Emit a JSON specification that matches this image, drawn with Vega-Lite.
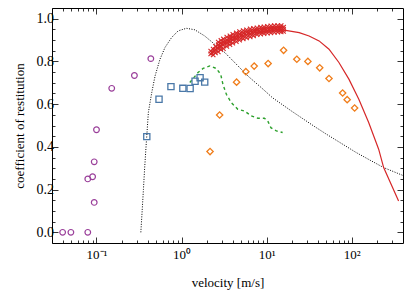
{
  "$schema": "https://vega.github.io/schema/vega-lite/v6.json",
  "width": 351,
  "height": 235,
  "autosize": {"type": "none"},
  "padding": {"left": 52, "top": 8, "right": 12, "bottom": 51},
  "config": {
    "view": {"stroke": "black", "strokeWidth": 1},
    "font": "Liberation Serif",
    "axis": {"domain": false, "grid": false, "tickColor": "black", "labelColor": "black", "titleColor": "black", "labelFontSize": 13, "titleFontSize": 13, "titleFontWeight": "normal", "labelFont": "Liberation Serif", "titleFont": "Liberation Serif", "tickWidth": 0.8}
  },
  "datasets": {
    "d": [
      {"s": "p", "v": 0.040, "e": 0.0}, {"s": "p", "v": 0.050, "e": 0.0}, {"s": "p", "v": 0.079, "e": 0.0}, {"s": "p", "v": 0.079, "e": 0.25}, {"s": "p", "v": 0.090, "e": 0.26}, {"s": "p", "v": 0.094, "e": 0.33}, {"s": "p", "v": 0.094, "e": 0.14}, {"s": "p", "v": 0.100, "e": 0.48}, {"s": "p", "v": 0.151, "e": 0.674}, {"s": "p", "v": 0.279, "e": 0.734}, {"s": "p", "v": 0.435, "e": 0.813},
      {"s": "b", "v": 0.39, "e": 0.448}, {"s": "b", "v": 0.543, "e": 0.623}, {"s": "b", "v": 0.75, "e": 0.682}, {"s": "b", "v": 1.035, "e": 0.674}, {"s": "b", "v": 1.26, "e": 0.673}, {"s": "b", "v": 1.44, "e": 0.707}, {"s": "b", "v": 1.65, "e": 0.724}, {"s": "b", "v": 1.87, "e": 0.703},
      {"s": "o", "v": 2.16, "e": 0.378}, {"s": "o", "v": 2.80, "e": 0.549}, {"s": "o", "v": 4.43, "e": 0.703}, {"s": "o", "v": 5.69, "e": 0.752}, {"s": "o", "v": 7.13, "e": 0.778}, {"s": "o", "v": 10.4, "e": 0.790}, {"s": "o", "v": 15.8, "e": 0.852}, {"s": "o", "v": 22.6, "e": 0.810}, {"s": "o", "v": 30.5, "e": 0.800}, {"s": "o", "v": 42.0, "e": 0.770}, {"s": "o", "v": 54.0, "e": 0.720}, {"s": "o", "v": 78.1, "e": 0.652}, {"s": "o", "v": 88.3, "e": 0.621}, {"s": "o", "v": 108, "e": 0.582},
      {"s": "g", "v": 1.25, "e": 0.701}, {"s": "g", "v": 1.56, "e": 0.748}, {"s": "g", "v": 1.79, "e": 0.767}, {"s": "g", "v": 2.14, "e": 0.779}, {"s": "g", "v": 2.56, "e": 0.767}, {"s": "g", "v": 2.88, "e": 0.740}, {"s": "g", "v": 3.06, "e": 0.693}, {"s": "g", "v": 3.36, "e": 0.646}, {"s": "g", "v": 3.84, "e": 0.607}, {"s": "g", "v": 4.58, "e": 0.576}, {"s": "g", "v": 5.49, "e": 0.568}, {"s": "g", "v": 6.58, "e": 0.545}, {"s": "g", "v": 7.86, "e": 0.534}, {"s": "g", "v": 9.40, "e": 0.534}, {"s": "g", "v": 10.3, "e": 0.521}, {"s": "g", "v": 11.2, "e": 0.490}, {"s": "g", "v": 13.0, "e": 0.475}, {"s": "g", "v": 15.4, "e": 0.467},
      {"s": "k", "v": 0.332, "e": 0.0}, {"s": "k", "v": 0.344, "e": 0.1}, {"s": "k", "v": 0.356, "e": 0.2}, {"s": "k", "v": 0.368, "e": 0.3}, {"s": "k", "v": 0.383, "e": 0.407}, {"s": "k", "v": 0.390, "e": 0.451}, {"s": "k", "v": 0.407, "e": 0.561}, {"s": "k", "v": 0.446, "e": 0.654}, {"s": "k", "v": 0.488, "e": 0.732}, {"s": "k", "v": 0.557, "e": 0.810}, {"s": "k", "v": 0.638, "e": 0.865}, {"s": "k", "v": 0.764, "e": 0.912}, {"s": "k", "v": 0.912, "e": 0.943}, {"s": "k", "v": 1.14, "e": 0.955}, {"s": "k", "v": 1.43, "e": 0.948}, {"s": "k", "v": 1.87, "e": 0.919}, {"s": "k", "v": 2.45, "e": 0.880}, {"s": "k", "v": 3.21, "e": 0.842}, {"s": "k", "v": 4.20, "e": 0.795}, {"s": "k", "v": 6.0, "e": 0.732}, {"s": "k", "v": 8.6, "e": 0.678}, {"s": "k", "v": 11.7, "e": 0.630}, {"s": "k", "v": 20, "e": 0.565}, {"s": "k", "v": 35, "e": 0.500}, {"s": "k", "v": 50, "e": 0.460}, {"s": "k", "v": 80, "e": 0.410}, {"s": "k", "v": 111, "e": 0.375}, {"s": "k", "v": 160, "e": 0.340}, {"s": "k", "v": 237, "e": 0.303}, {"s": "k", "v": 400, "e": 0.266},
      {"s": "r", "v": 15.4, "e": 0.948}, {"s": "r", "v": 24.1, "e": 0.935}, {"s": "r", "v": 31.5, "e": 0.919}, {"s": "r", "v": 41.3, "e": 0.896}, {"s": "r", "v": 54.0, "e": 0.857}, {"s": "r", "v": 70.6, "e": 0.795}, {"s": "r", "v": 92.5, "e": 0.717}, {"s": "r", "v": 121, "e": 0.623}, {"s": "r", "v": 158, "e": 0.514}, {"s": "r", "v": 207, "e": 0.389}, {"s": "r", "v": 237, "e": 0.303}, {"s": "r", "v": 355, "e": 0.147},
      {"s": "x", "v": 2.2, "e": 0.835}, {"s": "x", "v": 2.2, "e": 0.848}, {"s": "x", "v": 2.28, "e": 0.84},
      {"s": "x", "v": 2.35, "e": 0.83}, {"s": "x", "v": 2.35, "e": 0.845}, {"s": "x", "v": 2.35, "e": 0.858}, {"s": "x", "v": 2.42, "e": 0.85},
      {"s": "x", "v": 2.5, "e": 0.84}, {"s": "x", "v": 2.5, "e": 0.855}, {"s": "x", "v": 2.5, "e": 0.87}, {"s": "x", "v": 2.6, "e": 0.862},
      {"s": "x", "v": 2.7, "e": 0.845}, {"s": "x", "v": 2.7, "e": 0.862}, {"s": "x", "v": 2.7, "e": 0.878}, {"s": "x", "v": 2.7, "e": 0.89}, {"s": "x", "v": 2.8, "e": 0.87},
      {"s": "x", "v": 2.9, "e": 0.855}, {"s": "x", "v": 2.9, "e": 0.87}, {"s": "x", "v": 2.9, "e": 0.885}, {"s": "x", "v": 2.9, "e": 0.898}, {"s": "x", "v": 3.0, "e": 0.88},
      {"s": "x", "v": 3.1, "e": 0.86}, {"s": "x", "v": 3.1, "e": 0.877}, {"s": "x", "v": 3.1, "e": 0.892}, {"s": "x", "v": 3.1, "e": 0.905}, {"s": "x", "v": 3.25, "e": 0.888},
      {"s": "x", "v": 3.4, "e": 0.87}, {"s": "x", "v": 3.4, "e": 0.886}, {"s": "x", "v": 3.4, "e": 0.9}, {"s": "x", "v": 3.4, "e": 0.914}, {"s": "x", "v": 3.55, "e": 0.895},
      {"s": "x", "v": 3.7, "e": 0.878}, {"s": "x", "v": 3.7, "e": 0.893}, {"s": "x", "v": 3.7, "e": 0.907}, {"s": "x", "v": 3.7, "e": 0.92}, {"s": "x", "v": 3.85, "e": 0.905},
      {"s": "x", "v": 4.0, "e": 0.885}, {"s": "x", "v": 4.0, "e": 0.9}, {"s": "x", "v": 4.0, "e": 0.913}, {"s": "x", "v": 4.0, "e": 0.927}, {"s": "x", "v": 4.2, "e": 0.91},
      {"s": "x", "v": 4.4, "e": 0.893}, {"s": "x", "v": 4.4, "e": 0.907}, {"s": "x", "v": 4.4, "e": 0.92}, {"s": "x", "v": 4.4, "e": 0.933}, {"s": "x", "v": 4.6, "e": 0.917},
      {"s": "x", "v": 4.8, "e": 0.9}, {"s": "x", "v": 4.8, "e": 0.913}, {"s": "x", "v": 4.8, "e": 0.926}, {"s": "x", "v": 4.8, "e": 0.94}, {"s": "x", "v": 5.05, "e": 0.922},
      {"s": "x", "v": 5.3, "e": 0.906}, {"s": "x", "v": 5.3, "e": 0.918}, {"s": "x", "v": 5.3, "e": 0.931}, {"s": "x", "v": 5.3, "e": 0.944}, {"s": "x", "v": 5.55, "e": 0.928},
      {"s": "x", "v": 5.8, "e": 0.91}, {"s": "x", "v": 5.8, "e": 0.923}, {"s": "x", "v": 5.8, "e": 0.936}, {"s": "x", "v": 5.8, "e": 0.948}, {"s": "x", "v": 6.1, "e": 0.932},
      {"s": "x", "v": 6.4, "e": 0.915}, {"s": "x", "v": 6.4, "e": 0.928}, {"s": "x", "v": 6.4, "e": 0.94}, {"s": "x", "v": 6.4, "e": 0.952}, {"s": "x", "v": 6.7, "e": 0.936},
      {"s": "x", "v": 7.0, "e": 0.92}, {"s": "x", "v": 7.0, "e": 0.932}, {"s": "x", "v": 7.0, "e": 0.943}, {"s": "x", "v": 7.0, "e": 0.955}, {"s": "x", "v": 7.35, "e": 0.94},
      {"s": "x", "v": 7.7, "e": 0.925}, {"s": "x", "v": 7.7, "e": 0.936}, {"s": "x", "v": 7.7, "e": 0.946}, {"s": "x", "v": 7.7, "e": 0.957}, {"s": "x", "v": 8.1, "e": 0.942},
      {"s": "x", "v": 8.5, "e": 0.928}, {"s": "x", "v": 8.5, "e": 0.939}, {"s": "x", "v": 8.5, "e": 0.949}, {"s": "x", "v": 8.5, "e": 0.96}, {"s": "x", "v": 8.9, "e": 0.945},
      {"s": "x", "v": 9.3, "e": 0.93}, {"s": "x", "v": 9.3, "e": 0.941}, {"s": "x", "v": 9.3, "e": 0.951}, {"s": "x", "v": 9.3, "e": 0.962}, {"s": "x", "v": 9.75, "e": 0.947},
      {"s": "x", "v": 10.2, "e": 0.932}, {"s": "x", "v": 10.2, "e": 0.943}, {"s": "x", "v": 10.2, "e": 0.953}, {"s": "x", "v": 10.2, "e": 0.964}, {"s": "x", "v": 10.7, "e": 0.949},
      {"s": "x", "v": 11.2, "e": 0.934}, {"s": "x", "v": 11.2, "e": 0.945}, {"s": "x", "v": 11.2, "e": 0.955}, {"s": "x", "v": 11.2, "e": 0.966}, {"s": "x", "v": 11.7, "e": 0.951},
      {"s": "x", "v": 12.3, "e": 0.936}, {"s": "x", "v": 12.3, "e": 0.946}, {"s": "x", "v": 12.3, "e": 0.956}, {"s": "x", "v": 12.3, "e": 0.967}, {"s": "x", "v": 12.9, "e": 0.952},
      {"s": "x", "v": 13.5, "e": 0.937}, {"s": "x", "v": 13.5, "e": 0.947}, {"s": "x", "v": 13.5, "e": 0.957}, {"s": "x", "v": 13.5, "e": 0.968}, {"s": "x", "v": 14.1, "e": 0.953},
      {"s": "x", "v": 14.8, "e": 0.938}, {"s": "x", "v": 14.8, "e": 0.948}, {"s": "x", "v": 14.8, "e": 0.958}, {"s": "x", "v": 14.8, "e": 0.968},
      {"s": "x", "v": 15.8, "e": 0.94}, {"s": "x", "v": 15.8, "e": 0.95}, {"s": "x", "v": 15.8, "e": 0.96}
    ]
  },
  "data": {"name": "d"},
  "resolve": {"axis": {"x": "independent", "y": "independent"}},
  "encoding": {
    "x": {"field": "v", "type": "quantitative", "scale": {"type": "log", "domain": [0.03, 400], "nice": false}, "axis": null},
    "y": {"field": "e", "type": "quantitative", "scale": {"domain": [-0.05, 1.05], "nice": false, "zero": false}, "axis": null}
  },
  "layer": [
    {
      "transform": [{"filter": "datum.s == 'k'"}],
      "mark": {"type": "line", "color": "black", "strokeWidth": 1, "strokeDash": [1, 1.5]},
      "encoding": {
        "x": {"field": "v", "type": "quantitative", "scale": {"type": "log", "domain": [0.03, 400], "nice": false},
          "axis": {"orient": "bottom", "title": "velocity [m/s]", "values": [0.03, 0.04, 0.05, 0.06, 0.07, 0.08, 0.09, 0.1, 0.2, 0.3, 0.4, 0.5, 0.6, 0.7, 0.8, 0.9, 1, 2, 3, 4, 5, 6, 7, 8, 9, 10, 20, 30, 40, 50, 60, 70, 80, 90, 100, 200, 300],
            "labelExpr": "datum.value == 0.1 ? '10⁻¹' : datum.value == 1 ? '10⁰' : datum.value == 10 ? '10¹' : datum.value == 100 ? '10²' : ''",
            "tickSize": {"condition": {"test": "indexof([0.1, 1, 10, 100], datum.value) >= 0", "value": -6}, "value": -3},
            "labelFont": "Liberation Serif", "labelFontSize": 13, "titleFont": "Liberation Serif", "titleFontSize": 13, "titleFontWeight": "normal",
            "labelPadding": 11, "titlePadding": 12, "labelFlush": false, "labelOverlap": false}},
        "y": {"field": "e", "type": "quantitative", "scale": {"domain": [-0.05, 1.05], "nice": false, "zero": false},
          "axis": {"orient": "left", "title": "coefficient of restitution", "values": [0, 0.05, 0.1, 0.15, 0.2, 0.25, 0.3, 0.35, 0.4, 0.45, 0.5, 0.55, 0.6, 0.65, 0.7, 0.75, 0.8, 0.85, 0.9, 0.95, 1.0],
            "labelExpr": "abs(datum.value * 5 - round(datum.value * 5)) < 0.001 ? format(datum.value, '.1f') : ''",
            "tickSize": {"condition": {"test": "abs(datum.value * 5 - round(datum.value * 5)) < 0.001", "value": -6}, "value": -3},
            "labelFont": "Liberation Serif", "labelFontSize": 14, "titleFont": "Liberation Serif", "titleFontSize": 13, "titleFontWeight": "normal",
            "labelPadding": 4.5, "titlePadding": 10, "labelFlush": false, "labelOverlap": false}}
      }
    },
    {
      "transform": [{"filter": "datum.s == 'g'"}],
      "mark": {"type": "line", "color": "#2ca02c", "strokeWidth": 1.4, "strokeDash": [3, 3]},
      "encoding": {
        "x": {"field": "v", "type": "quantitative", "scale": {"type": "log", "domain": [0.03, 400], "nice": false},
          "axis": {"orient": "top", "title": null, "labels": false, "values": [0.03, 0.04, 0.05, 0.06, 0.07, 0.08, 0.09, 0.1, 0.2, 0.3, 0.4, 0.5, 0.6, 0.7, 0.8, 0.9, 1, 2, 3, 4, 5, 6, 7, 8, 9, 10, 20, 30, 40, 50, 60, 70, 80, 90, 100, 200, 300],
            "tickSize": {"condition": {"test": "indexof([0.1, 1, 10, 100], datum.value) >= 0", "value": -6}, "value": -3}}},
        "y": {"field": "e", "type": "quantitative", "scale": {"domain": [-0.05, 1.05], "nice": false, "zero": false},
          "axis": {"orient": "right", "title": null, "labels": false, "values": [0, 0.05, 0.1, 0.15, 0.2, 0.25, 0.3, 0.35, 0.4, 0.45, 0.5, 0.55, 0.6, 0.65, 0.7, 0.75, 0.8, 0.85, 0.9, 0.95, 1.0],
            "tickSize": {"condition": {"test": "abs(datum.value * 5 - round(datum.value * 5)) < 0.001", "value": -6}, "value": -3}}}
      }
    },
    {
      "transform": [{"filter": "datum.s == 'r'"}],
      "mark": {"type": "line", "color": "#d62728", "strokeWidth": 1.2}
    },
    {
      "transform": [{"filter": "datum.s == 'x'"}],
      "mark": {"type": "point", "shape": "M-1,-1L1,1M-1,1L1,-1", "filled": false, "color": "#d62728", "size": 20, "strokeWidth": 1.1, "opacity": 1}
    },
    {
      "transform": [{"filter": "datum.s == 'p'"}],
      "mark": {"type": "point", "shape": "circle", "filled": false, "color": "#9a3f9a", "size": 32, "strokeWidth": 1.2, "opacity": 1}
    },
    {
      "transform": [{"filter": "datum.s == 'b'"}],
      "mark": {"type": "point", "shape": "square", "filled": false, "color": "#4a78a8", "size": 38, "strokeWidth": 1.3, "opacity": 1}
    },
    {
      "transform": [{"filter": "datum.s == 'o'"}],
      "mark": {"type": "point", "shape": "diamond", "filled": false, "color": "#f07d1a", "size": 40, "strokeWidth": 1.3, "opacity": 1}
    }
  ]
}
